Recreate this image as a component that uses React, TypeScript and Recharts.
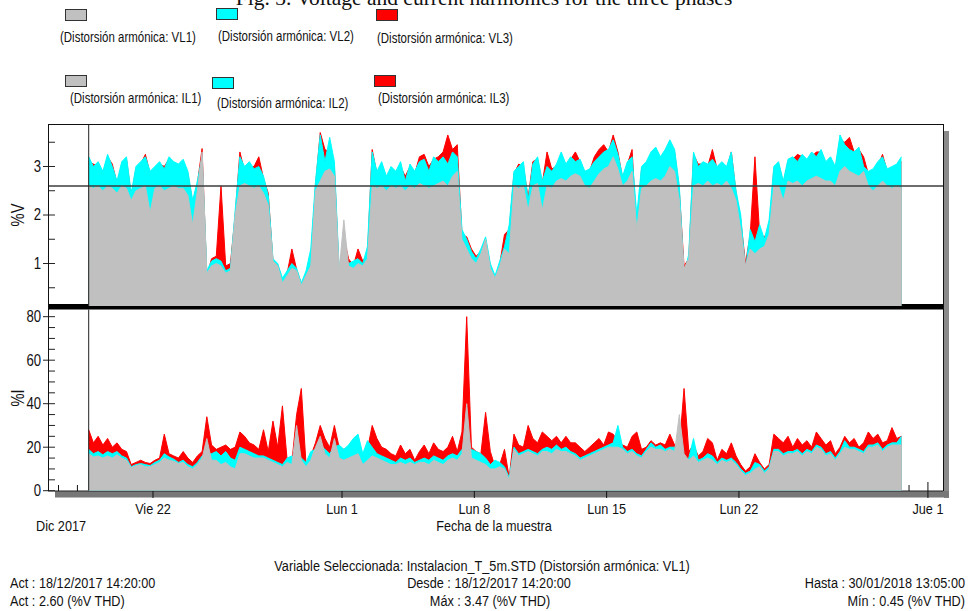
import React from 'react';
import { AreaChart, Area, XAxis, YAxis, ReferenceLine } from 'recharts';

// samples every 6 h, starting 18/12/2017 14:20 (x = day counted from 1 Dec 2017)
const T0 = 18.597;
const STEP = 0.25;

// %V THD per phase
const VL1 = [
  2.6, 2.55, 2.6, 2.5, 2.6, 2.55, 2.45, 2.6, 2.55, 2.3,
  2.5, 2.55, 2.6, 2.05, 2.55, 2.6, 2.5, 2.55, 2.6, 2.55,
  2.55, 2.4, 1.8, 2.5, 3.3, 0.8, 0.95, 1.0, 0.95, 0.8,
  0.85, 2.0, 2.6, 2.65, 2.6, 2.55, 2.6, 2.45, 2.2, 1.05,
  0.95, 0.6, 0.75, 0.9, 0.85, 0.55, 0.75, 0.95, 2.5, 2.7,
  2.9, 2.95, 2.8, 0.85, 1.9, 0.95, 0.9, 1.0, 0.95, 1.1,
  2.6, 2.55, 2.6, 2.5, 2.6, 2.55, 2.6, 2.5, 2.6, 2.55,
  2.65, 2.6, 2.55, 2.6, 2.65, 2.7, 2.6, 2.8, 2.9, 1.5,
  1.3, 1.1, 1.0, 1.2, 1.5, 0.9, 0.7, 0.95, 1.3, 1.2,
  2.6, 2.55, 2.6, 2.1, 2.6, 2.65, 2.1, 2.6, 2.55, 2.7,
  2.75, 2.7, 2.8, 2.85, 2.8, 2.6, 2.55, 2.7, 2.85, 2.95,
  3.0, 3.2, 2.95, 2.6, 2.7, 2.9, 1.7, 2.55, 2.6, 2.7,
  2.75, 2.7, 2.8, 3.0, 2.9, 2.3, 0.9, 1.1, 2.6, 2.65,
  2.6, 2.7, 2.6, 2.65, 2.6, 2.7, 2.55, 2.3, 1.7, 0.95,
  1.3, 1.2, 1.3, 1.35, 1.6, 2.6, 2.6, 2.3, 2.7, 2.65,
  2.7, 2.6, 2.7, 2.75, 2.8, 2.75, 2.7, 2.7, 2.6, 2.9,
  3.0, 2.9, 2.85, 2.8, 2.9, 2.6, 2.5, 2.6, 2.7, 2.6,
  2.55, 2.6, 2.55,
];
const VL2 = [
  3.2, 3.0, 3.1, 2.9, 3.25, 3.0, 2.7, 3.1, 3.2, 2.45,
  3.0, 3.1, 3.2, 2.9, 3.0, 3.1, 2.95, 3.2, 3.1, 3.05,
  3.15, 2.9, 2.3, 2.7, 3.2, 0.85, 1.05, 1.1, 1.05, 0.85,
  0.9, 2.1, 3.2, 3.0, 3.1, 2.95, 3.0, 2.8, 2.4, 1.1,
  1.0, 0.7, 0.85, 1.0, 0.9, 0.6, 0.85, 1.3, 2.7, 3.65,
  3.1, 3.6, 3.1, 0.9, 1.2, 1.0, 1.05, 1.1, 1.0, 1.35,
  3.3, 2.9, 3.1, 2.8, 3.0, 2.9, 3.1, 2.7, 3.05, 2.9,
  3.1, 3.15, 2.9, 3.2, 3.1, 3.2, 3.05, 3.3, 3.2, 1.7,
  1.5, 1.25, 1.1, 1.3, 1.55, 1.0, 0.75, 1.05, 1.35, 1.8,
  2.9, 3.0, 3.1, 2.3, 3.05, 3.2, 2.7, 3.0, 2.9, 3.05,
  3.3, 3.05, 3.2, 3.1, 3.15, 2.9, 2.95, 3.1, 3.2, 3.3,
  3.35, 3.55, 3.25, 2.8, 3.1, 3.2, 2.0, 3.0, 3.1, 3.3,
  3.4, 3.2, 3.35, 3.55, 3.35, 2.6, 0.75, 1.2, 3.3, 3.0,
  3.1, 3.05, 3.15, 3.0, 3.1, 3.0, 3.3, 2.5, 2.0, 0.85,
  1.7, 1.45, 1.8, 1.5, 1.9, 3.0, 3.1, 2.7, 3.15, 3.2,
  3.1, 3.25, 3.15, 3.3, 3.2, 3.35, 3.1, 3.2, 3.0, 3.65,
  3.45, 3.35, 3.3, 3.4, 3.0, 2.9, 2.95, 3.1, 3.2, 2.95,
  3.0, 3.05, 3.2,
];
const VL3 = [
  3.1, 3.05, 3.0, 2.85, 3.2, 3.05, 2.65, 3.05, 3.15, 2.4,
  2.95, 3.05, 3.25, 2.85, 2.95, 3.05, 3.0, 3.15, 3.05, 3.0,
  3.05, 2.85, 2.25, 2.65, 3.37, 0.75, 1.1, 1.15, 2.6, 0.95,
  1.0, 2.0, 3.3, 2.9, 3.0, 3.0, 3.2, 2.75, 2.45, 1.05,
  0.98, 0.65, 0.8, 1.3, 0.88, 0.58, 0.8, 1.1, 2.6, 3.7,
  3.35, 3.3, 3.0, 0.8, 1.55, 1.1, 0.95, 1.3, 1.05, 1.2,
  3.35, 2.85, 3.0, 2.75, 2.95, 2.85, 3.0, 2.8, 3.0, 2.85,
  3.2, 3.25, 3.0, 3.15, 3.2, 3.3, 3.65, 3.35, 3.45, 1.6,
  1.55, 1.3, 1.15, 1.25, 1.5, 0.95, 0.6, 1.0, 1.6, 1.7,
  2.85, 3.05, 3.0, 2.35, 3.1, 3.15, 2.65, 3.3, 2.95, 3.0,
  3.2, 3.0, 3.15, 3.3, 3.1, 2.85, 2.9, 3.2, 3.35, 3.45,
  3.3, 3.65, 3.3, 2.75, 3.05, 3.35, 1.6, 2.95, 3.05, 3.2,
  3.3, 3.15, 3.3, 3.5, 3.3, 2.5, 0.95, 1.1, 3.25, 3.05,
  3.05, 3.0, 3.35, 2.95, 3.05, 2.95, 3.3, 2.45, 1.9, 1.0,
  1.6, 3.2, 1.6, 1.55, 1.7, 2.95, 3.05, 2.65, 3.1, 3.15,
  3.25, 3.2, 3.1, 3.2, 3.3, 3.3, 3.05, 3.15, 2.95, 3.55,
  3.5, 3.6, 3.3, 3.35, 3.2, 2.85, 2.9, 3.0, 3.25, 2.9,
  2.95, 3.0, 3.1,
];

// %I THD per phase
const IL1 = [
  17, 15.5, 16, 15, 16, 15, 16.5, 15, 14, 10.5,
  11.5, 12, 11, 11, 12, 13, 15, 14, 13.5, 12.5,
  13, 11, 10, 12, 15, 24, 14, 14, 12, 13,
  11, 10, 17, 17, 16, 15, 15, 15, 14, 13,
  12, 11, 13, 12, 30, 14, 11, 14, 20, 25,
  17, 15, 24, 15, 14, 15, 16, 17, 12, 14,
  16, 15, 14, 13, 12, 12, 13, 12, 13, 12,
  13, 13, 12, 14, 13, 12, 14, 15, 14, 17,
  40, 15, 14, 13, 12, 10, 10, 11, 10, 5,
  19, 16, 17, 18, 17, 16, 18, 18, 17, 19,
  18, 18, 17, 16, 14, 15, 16, 17, 18, 19,
  20, 20, 20, 19, 17, 18, 16, 15, 18, 20,
  19, 19, 18, 19, 18, 35, 17, 14, 16, 13,
  14, 15, 14, 12, 14, 13, 14, 12, 9, 7,
  8, 10, 11, 8, 10, 18, 18, 16, 17, 17,
  18, 16, 18, 17, 20, 19, 16, 17, 14, 17,
  20, 19, 19, 18, 17, 20, 20, 21, 18, 20,
  21, 21, 21,
];
const IL2 = [
  19, 17, 18, 16.5, 18, 17, 18, 16, 15, 11,
  12, 12.5, 12, 11.5, 13, 14, 17, 15.5, 14.5, 13,
  14, 12, 11, 13, 16, 17, 17, 18, 16, 18,
  15, 14, 20, 19, 18, 17, 16, 16, 15, 14,
  13, 12, 15, 16, 14, 15, 13, 18, 19, 21,
  19, 17, 20, 21, 19, 21, 24, 26, 17, 23,
  20, 17, 16, 15, 14, 13, 15, 14, 15, 13,
  14, 15, 14, 16, 15, 14, 16, 17, 16, 19,
  18, 19, 18, 17, 15, 12, 14, 13, 11, 6,
  20, 17, 18, 19, 18, 17, 19, 20, 19, 21,
  19, 20, 18, 17, 15, 16, 17, 18, 19, 20,
  21, 22, 30, 20, 18, 19, 17, 16, 19, 22,
  20, 21, 19, 20, 20, 18, 14, 15, 24, 14,
  15, 17, 16, 13, 15, 14, 15, 13, 10, 8,
  9, 13, 12, 9, 11, 19, 19, 17, 18, 18,
  19, 17, 19, 18, 21, 20, 17, 18, 15, 18,
  23, 20, 20, 19, 18, 21, 21, 22, 19, 21,
  22, 22, 25,
];
const IL3 = [
  28, 22, 25, 21, 24, 20, 22, 19, 18, 12,
  13, 14, 13, 12.5, 14, 15, 26, 17, 16, 15,
  18, 15, 13, 16, 18, 34, 21, 19, 20, 21,
  19, 20, 27, 25, 22, 21, 19, 28, 18, 32,
  20, 39, 14, 13, 35, 47, 12, 16, 22, 30,
  24, 20, 30, 20, 19, 20, 22, 24, 15, 19,
  30, 24, 20, 19, 17, 16, 21, 17, 19, 14,
  18, 21, 17, 22, 19, 18, 20, 25, 18, 27,
  80, 20, 18, 17, 36, 18, 11, 12, 19, 6,
  26, 21, 20, 30, 24, 22, 27, 25, 23, 25,
  22, 25, 22, 22, 20, 18, 20, 22, 24, 21,
  27, 26, 23, 21, 20, 25, 27, 19, 20, 23,
  21, 22, 21, 26, 21, 20, 47, 18, 21, 16,
  18, 24, 22, 14, 19, 17, 22, 16, 12, 9,
  11, 17, 13, 10, 12, 26, 24, 22, 25, 20,
  24, 21, 23, 20, 27, 24, 21, 23, 17, 20,
  25, 22, 24, 20, 22, 27, 24, 26, 22, 23,
  29, 24, 25,
];

const X_TICKS = [17, 18, 22, 32, 39, 46, 53, 62, 63];
const X_LABELS: Record<number, string> = { 22: 'Vie 22', 32: 'Lun 1', 39: 'Lun 8', 46: 'Lun 15', 53: 'Lun 22', 63: 'Jue 1' };
const V_TICKS = [0.5, 1, 1.5, 2, 2.5, 3, 3.5];
const I_TICKS = [0, 5, 10, 15, 20, 25, 30, 35, 40, 45, 50, 55, 60, 65, 70, 75, 80];

const ACT_VALUE = 2.6;
const X_DOMAIN: [number, number] = [16.444, 63.797];

const GRAY = '#c0c0c0';
const CYAN = '#00ffff';
const RED = '#ff0000';
// Arial-metric font squeezed horizontally to look like Arial Narrow
const FONT = '"Liberation Sans", Arial, sans-serif';
const NARROW = 0.82;

const data = VL1.map((v, i) => ({
  t: T0 + STEP * i,
  vl1: v, vl2: VL2[i], vl3: VL3[i],
  il1: IL1[i], il2: IL2[i], il3: IL3[i],
}));

const NText = ({ x, y, s, anchor = 'start', size = 14, rotate = 0 }: any) => (
  <text
    transform={`translate(${x} ${y}) rotate(${rotate}) scale(${NARROW} 1)`}
    textAnchor={anchor}
    dominantBaseline="central"
    fontSize={size}
    fontFamily={FONT}
    fill="#111"
  >
    {s}
  </text>
);

const YTick = (props: any) => {
  const { y, payload, majorEvery } = props;
  const v = payload.value;
  const major = Math.abs(v / majorEvery - Math.round(v / majorEvery)) < 1e-6;
  return (
    <g>
      <line x1={major ? 43 : 48} x2={55} y1={y} y2={y} stroke="#222" />
      {major && <NText x={41} y={y} s={String(v)} anchor="end" size={16} />}
    </g>
  );
};

const DateTick = (props: any) => {
  const { x, payload } = props;
  const label = X_LABELS[payload.value];
  if (!label) return <line x1={x} x2={x} y1={485} y2={491} stroke="#111" />;
  const top = payload.value === 63 ? 482 : 491;
  return (
    <g>
      <line x1={x} x2={x} y1={top} y2={498} stroke="#111" />
      <NText x={x} y={509} s={label} anchor="middle" size={15.5} />
    </g>
  );
};

const Swatch = ({ x, y, color }: { x: number; y: number; color: string }) => (
  <rect x={x + 0.5} y={y + 0.5} width={21} height={11} fill={color} stroke="#333" />
);

export default function App() {
  return (
    <div style={{ position: 'absolute', left: 0, top: 0, width: 968, height: 611, background: '#fff', overflow: 'hidden' }}>
      {/* frame pieces behind the charts */}
      <svg width={968} height={611} style={{ position: 'absolute', left: 0, top: 0 }}>
        <rect x={944} y={131} width={5} height={367} fill="#8a8a8a" />
        <rect x={48} y={304} width={895} height={5.5} fill="#000" />
        <rect x={55} y={491} width={894} height={6.5} fill="#777" />
        <line x1={48} x2={943} y1={491} y2={491} stroke="#222" />
      </svg>

      <div style={{ position: 'absolute', left: 0, top: 0 }}>
        <AreaChart width={968} height={311} data={data} margin={{ top: 124, right: 25, bottom: 5, left: 8 }}>
          <XAxis type="number" dataKey="t" domain={X_DOMAIN} allowDataOverflow hide />
          <YAxis
            width={40}
            type="number"
            domain={[0.124, 3.876]}
            allowDataOverflow
            ticks={V_TICKS}
            interval={0}
            axisLine={false}
            tickLine={false}
            tick={<YTick majorEvery={1} />}
          />
          <Area type="linear" dataKey="vl3" stroke={RED} fill={RED} fillOpacity={1} strokeWidth={1} dot={false} activeDot={false} isAnimationActive={false} />
          <Area type="linear" dataKey="vl2" stroke={CYAN} fill={CYAN} fillOpacity={1} strokeWidth={1} dot={false} activeDot={false} isAnimationActive={false} />
          <Area type="linear" dataKey="vl1" stroke={GRAY} fill={GRAY} fillOpacity={1} strokeWidth={1} dot={false} activeDot={false} isAnimationActive={false} />
          <ReferenceLine y={ACT_VALUE} stroke="#3c3c3c" strokeWidth={1.5} />
          <ReferenceLine x={T0} stroke="#222" />
        </AreaChart>
      </div>

      <div style={{ position: 'absolute', left: 0, top: 0 }}>
        <AreaChart width={968} height={540} data={data} margin={{ top: 309.5, right: 25, bottom: 9.3, left: 8 }}>
          <XAxis
            type="number"
            dataKey="t"
            domain={X_DOMAIN}
            allowDataOverflow
            ticks={X_TICKS}
            interval={0}
            height={40}
            axisLine={false}
            tickLine={false}
            tick={<DateTick />}
          />
          <YAxis
            width={40}
            type="number"
            domain={[0, 83.3]}
            allowDataOverflow
            ticks={I_TICKS}
            interval={0}
            axisLine={false}
            tickLine={false}
            tick={<YTick majorEvery={20} />}
          />
          <Area type="linear" dataKey="il3" stroke={RED} fill={RED} fillOpacity={1} strokeWidth={1} dot={false} activeDot={false} isAnimationActive={false} />
          <Area type="linear" dataKey="il2" stroke={CYAN} fill={CYAN} fillOpacity={1} strokeWidth={1} dot={false} activeDot={false} isAnimationActive={false} />
          <Area type="linear" dataKey="il1" stroke={GRAY} fill={GRAY} fillOpacity={1} strokeWidth={1} dot={false} activeDot={false} isAnimationActive={false} />
          <ReferenceLine x={T0} stroke="#222" />
        </AreaChart>
      </div>

      {/* texts, legend and frame on top */}
      <svg width={968} height={611} style={{ position: 'absolute', left: 0, top: 0, pointerEvents: 'none' }}>
        <text x={484} y={5} textAnchor="middle" fontSize={21.5} fontFamily='"Liberation Serif", "Times New Roman", serif' fill="#111">
          Fig. 3.  Voltage and current harmonics for the three phases
        </text>

        <Swatch x={65} y={9} color={GRAY} />
        <Swatch x={216} y={8} color={CYAN} />
        <Swatch x={376} y={9} color={RED} />
        <NText x={60} y={37.5} s="(Distorsión armónica: VL1)" />
        <NText x={218} y={36.5} s="(Distorsión armónica: VL2)" />
        <NText x={377} y={38} s="(Distorsión armónica: VL3)" />

        <Swatch x={65} y={75} color={GRAY} />
        <Swatch x={212} y={77} color={CYAN} />
        <Swatch x={374} y={75} color={RED} />
        <NText x={70} y={98} s="(Distorsión armónica: IL1)" />
        <NText x={217} y={103} s="(Distorsión armónica: IL2)" />
        <NText x={378} y={98} s="(Distorsión armónica: IL3)" />

        <line x1={48.5} x2={48.5} y1={124} y2={491} stroke="#111" />
        <line x1={48} x2={944} y1={124.5} y2={124.5} stroke="#111" />
        <line x1={943.5} x2={943.5} y1={124} y2={491} stroke="#111" />

        <NText x={17} y={215} s="%V" anchor="middle" size={18} rotate={-90} />
        <NText x={17} y={398} s="%I" anchor="middle" size={18} rotate={-90} />

        <NText x={36} y={526} s="Dic 2017" size={15.5} />
        <NText x={494} y={526} s="Fecha de la muestra" anchor="middle" size={15.5} />

        <NText x={482} y={566} s="Variable Seleccionada: Instalacion_T_5m.STD (Distorsión armónica: VL1)" anchor="middle" size={15.5} />
        <NText x={10} y={583} s="Act : 18/12/2017 14:20:00" size={15.5} />
        <NText x={489} y={583} s="Desde : 18/12/2017 14:20:00" anchor="middle" size={15.5} />
        <NText x={965} y={583} s="Hasta : 30/01/2018 13:05:00" anchor="end" size={15.5} />
        <NText x={10} y={601} s="Act : 2.60 (%V THD)" size={15.5} />
        <NText x={490} y={601} s="Máx : 3.47 (%V THD)" anchor="middle" size={15.5} />
        <NText x={965} y={601} s="Mín : 0.45 (%V THD)" anchor="end" size={15.5} />
      </svg>
    </div>
  );
}
